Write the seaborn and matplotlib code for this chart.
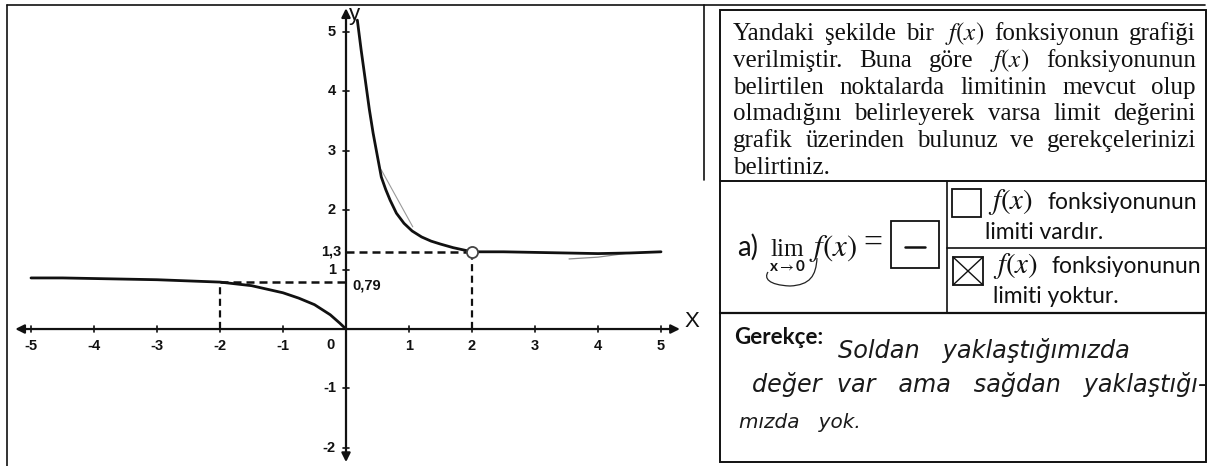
import matplotlib
matplotlib.use("Agg")
import matplotlib.pyplot as plt
import seaborn as sns
import pandas as pd
from matplotlib.patches import Rectangle
from matplotlib.path import Path
from matplotlib.patches import PathPatch

# ---------------- data ----------------
# left branch of f(x), x < 0
left_x = [-5.0, -4.5, -4.0, -3.5, -3.0, -2.5, -2.0, -1.5, -1.0, -0.75, -0.5, -0.25, -0.1, 0.0]
left_y = [0.86, 0.86, 0.85, 0.84, 0.83, 0.81, 0.79, 0.73, 0.61, 0.52, 0.41, 0.24, 0.10, 0.0]
# right branch of f(x), x > 0
right_x = [0.18, 0.24, 0.30, 0.37, 0.43, 0.50, 0.56, 0.63, 0.70, 0.80, 0.92, 1.05, 1.20,
           1.35, 1.50, 1.70, 2.00, 2.50, 3.00, 3.50, 4.00, 4.50, 5.00]
right_y = [5.20, 4.70, 4.24, 3.70, 3.30, 2.90, 2.56, 2.35, 2.17, 1.95, 1.78, 1.65, 1.55,
           1.48, 1.43, 1.37, 1.30, 1.30, 1.29, 1.28, 1.27, 1.28, 1.30]
# marked points
mark_left = (-2.0, 0.79)
mark_hole = (2.0, 1.3)
x_ticks = [-5, -4, -3, -2, -1, 1, 2, 3, 4, 5]
y_ticks = [5, 4, 3, 2, 1, -1, -2]
y_tick_labels = ["5", "4", "3", "2", "1", "-1", "-2"]
# light pencil strokes drawn over the graph
pencil_a_x, pencil_a_y = [0.56, 1.06], [2.68, 1.72]
pencil_b_x, pencil_b_y = [3.54, 4.0, 4.49], [1.18, 1.21, 1.28]

question_lines = [
    ["Yandaki", "şekilde", "bir", "$f(x)$", "fonksiyonun", "grafiği"],
    ["verilmiştir.", "Buna", "göre", "$f(x)$", "fonksiyonunun"],
    ["belirtilen", "noktalarda", "limitinin", "mevcut", "olup"],
    ["olmadığını", "belirleyerek", "varsa", "limit", "değerini"],
    ["grafik", "üzerinden", "bulunuz", "ve", "gerekçelerinizi"],
    ["belirtiniz."],
]
answer_lines = ["Soldan   yaklaştığımızda", "değer  var   ama   sağdan   yaklaştığı-", "mızda   yok."]

# ---------------- figure ----------------
sns.set_style("white")
plt.rcParams["font.family"] = ["Liberation Sans", "DejaVu Sans"]
plt.rcParams["mathtext.fontset"] = "stix"

W, H = 1215, 466
fig = plt.figure(figsize=(W / 100, H / 100), dpi=100)
fig.patch.set_facecolor("white")
renderer = fig.canvas.get_renderer()

# page overlay in pixel coordinates
pg = fig.add_axes([0, 0, 1, 1], zorder=0)
pg.set_xlim(0, W)
pg.set_ylim(H, 0)
pg.set_axis_off()

INK = "#111111"

def width_px(t):
    return t.get_window_extent(renderer=renderer).width

def fit(ax, x, y, s, width, ha="left", va="baseline", **kw):
    t = ax.text(x, y, s, ha=ha, va=va, fontsize=20, **kw)
    t.set_fontsize(20 * width / width_px(t))
    return t

def justify(ax, words, x0, x1, y, size, **kw):
    ts = [ax.text(x0, y, w, fontsize=size, ha="left", va="baseline", **kw) for w in words]
    ws = [width_px(t) for t in ts]
    gap = (x1 - x0 - sum(ws)) / max(len(words) - 1, 1)
    x = x0
    for t, w in zip(ts, ws):
        t.set_x(x)
        x += w + gap

# page borders around the graph
pg.plot([7, 7], [5, 466], color=INK, lw=1.2)
pg.plot([7, 1205], [5, 5], color=INK, lw=1.2)
pg.plot([704, 704], [5, 180], color=INK, lw=1.2)

# ---------------- graph ----------------
ax = fig.add_axes([7 / W, 0, 700 / W, 461 / H], zorder=2)
ax.patch.set_alpha(0)
ax.set_xlim(-5.381, 5.730)
ax.set_ylim(-2.306, 5.455)

left_df = pd.DataFrame({"x": left_x, "y": left_y})
right_df = pd.DataFrame({"x": right_x, "y": right_y})
sns.lineplot(data=left_df, x="x", y="y", ax=ax, color=INK, lw=2.0, zorder=3)
sns.lineplot(data=right_df, x="x", y="y", ax=ax, color=INK, lw=2.0, zorder=3)
ax.plot(pencil_a_x, pencil_a_y, color="#9a9a9a", lw=0.8, zorder=2)
ax.plot(pencil_b_x, pencil_b_y, color="#8a8a8a", lw=0.9, zorder=2)
ax.set_axis_off()

# axes with arrow heads
arrow = dict(arrowstyle="<|-|>", lw=1.6, color=INK, mutation_scale=13, shrinkA=0, shrinkB=0)
ax.annotate("", xy=(5.30, 0), xytext=(-5.25, 0), arrowprops=arrow, zorder=2)
ax.annotate("", xy=(0, 5.40), xytext=(0, -2.24), arrowprops=arrow, zorder=2)
ax.text(5.38, 0.12, "X", fontsize=16, ha="left", va="center", color=INK)
ax.text(0.04, 5.30, "y", fontsize=16, ha="left", va="center", color=INK)

tick_font = dict(fontsize=10.5, fontweight="bold", color=INK)
for xt in x_ticks:
    ax.plot([xt, xt], [-0.05, 0.05], color=INK, lw=1.2)
    ax.text(xt, -0.29, str(xt), ha="center", va="center", **tick_font)
for yt, lab in zip(y_ticks, y_tick_labels):
    ax.plot([-0.04, 0.04], [yt, yt], color=INK, lw=1.2)
    ax.text(-0.16, yt, lab, ha="right", va="center", **tick_font)
ax.text(-0.25, -0.27, "0", ha="center", va="center", **tick_font)

# guide lines to the marked points
dash = (0, (3.2, 2.0))
ax.plot([mark_left[0], mark_left[0]], [0, mark_left[1]], color=INK, lw=1.6, ls=dash)
ax.plot([mark_left[0], 0], [mark_left[1], mark_left[1]], color=INK, lw=1.8, ls=dash)
ax.plot([0, mark_hole[0]], [mark_hole[1], mark_hole[1]], color=INK, lw=1.8, ls=dash)
ax.plot([mark_hole[0], mark_hole[0]], [0, mark_hole[1] - 0.1], color=INK, lw=1.6, ls=dash)
ax.text(0.10, mark_left[1] - 0.05, "0,79", ha="left", va="center", **tick_font)
ax.text(-0.08, mark_hole[1], "1,3", ha="right", va="center", **tick_font)
ax.plot([mark_hole[0]], [mark_hole[1]], marker="o", ms=8, mfc="white", mec="#444444", mew=1.3, zorder=5)

# ---------------- question table ----------------
L, R, T, B = 720, 1206, 10, 462
pg.add_patch(Rectangle((L, T), R - L, B - T, fill=False, ec=INK, lw=1.4))
pg.plot([L, R], [181, 181], color=INK, lw=1.4)
pg.plot([L, R], [313, 313], color=INK, lw=1.6)
pg.plot([947, 947], [181, 313], color=INK, lw=1.2)
pg.plot([947, R], [248, 248], color=INK, lw=1.2)

serif = dict(family=["Liberation Serif", "DejaVu Serif"], color=INK)
probe = pg.text(0, 0, "belirtiniz.", fontsize=20, **serif)
q_size = 20 * 97 / width_px(probe)
probe.remove()
baselines = [40, 67, 94, 120, 147, 174]
for words, yb in zip(question_lines[:-1], baselines[:-1]):
    justify(pg, words, 733, 1196, yb, q_size, **serif)
pg.text(733, baselines[-1], " ".join(question_lines[-1]), fontsize=q_size, ha="left", va="baseline", **serif)

# limit expression
sans = dict(family=["Lato", "DejaVu Sans"], color=INK)
fit(pg, 737, 256, "a)", 21, **sans)
fit(pg, 770, 256, "lim", 34, **serif)
fit(pg, 787, 271, r"x$\rightarrow$0", 36, ha="center", fontweight="bold", **sans)
fit(pg, 809, 256, "$f(x)$", 48, **serif)
fit(pg, 863, 252, "=", 19, **serif)
pg.add_patch(Rectangle((891, 221), 48, 47, fill=False, ec=INK, lw=1.3))
pg.plot([905, 925], [247, 247], color=INK, lw=1.8)
loop = Path([(817, 258), (816, 276), (810, 285), (790, 286), (768, 285), (764, 278), (768, 272)],
            [Path.MOVETO, Path.CURVE4, Path.CURVE4, Path.CURVE4, Path.CURVE4, Path.CURVE4, Path.CURVE4])
pg.add_patch(PathPatch(loop, fill=False, ec="#222222", lw=0.9))

# answer choices
pg.add_patch(Rectangle((952, 189), 29, 28, fill=False, ec=INK, lw=1.3))
pg.add_patch(Rectangle((953, 257), 30, 28, fill=False, ec=INK, lw=1.3))
pg.plot([953, 983], [257, 285], color=INK, lw=1.0)
pg.plot([953, 983], [285, 257], color=INK, lw=1.0)
fk = fit(pg, 1047, 209, "fonksiyonunun", 150, **sans)
s_size = fk.get_fontsize()
fit(pg, 988, 209, "$f(x)$", 45, **serif)
pg.text(985, 239, "limiti vardır.", fontsize=s_size, ha="left", va="baseline", **sans)
fit(pg, 993, 273, "$f(x)$", 45, **serif)
pg.text(1052, 273, "fonksiyonunun", fontsize=s_size, ha="left", va="baseline", **sans)
pg.text(993, 303, "limiti yoktur.", fontsize=s_size, ha="left", va="baseline", **sans)

# justification
fit(pg, 734, 344, "Gerekçe:", 89, fontweight="bold", **sans)
hand = dict(family=["DejaVu Sans"], style="oblique", fontweight="light", color="#1a1a1a")
fit(pg, 838, 358, answer_lines[0], 292, **hand)
fit(pg, 752, 392, answer_lines[1], 455, **hand)
fit(pg, 739, 428, answer_lines[2], 122, **hand)

fig.savefig("out.png", dpi=100, facecolor="white")
